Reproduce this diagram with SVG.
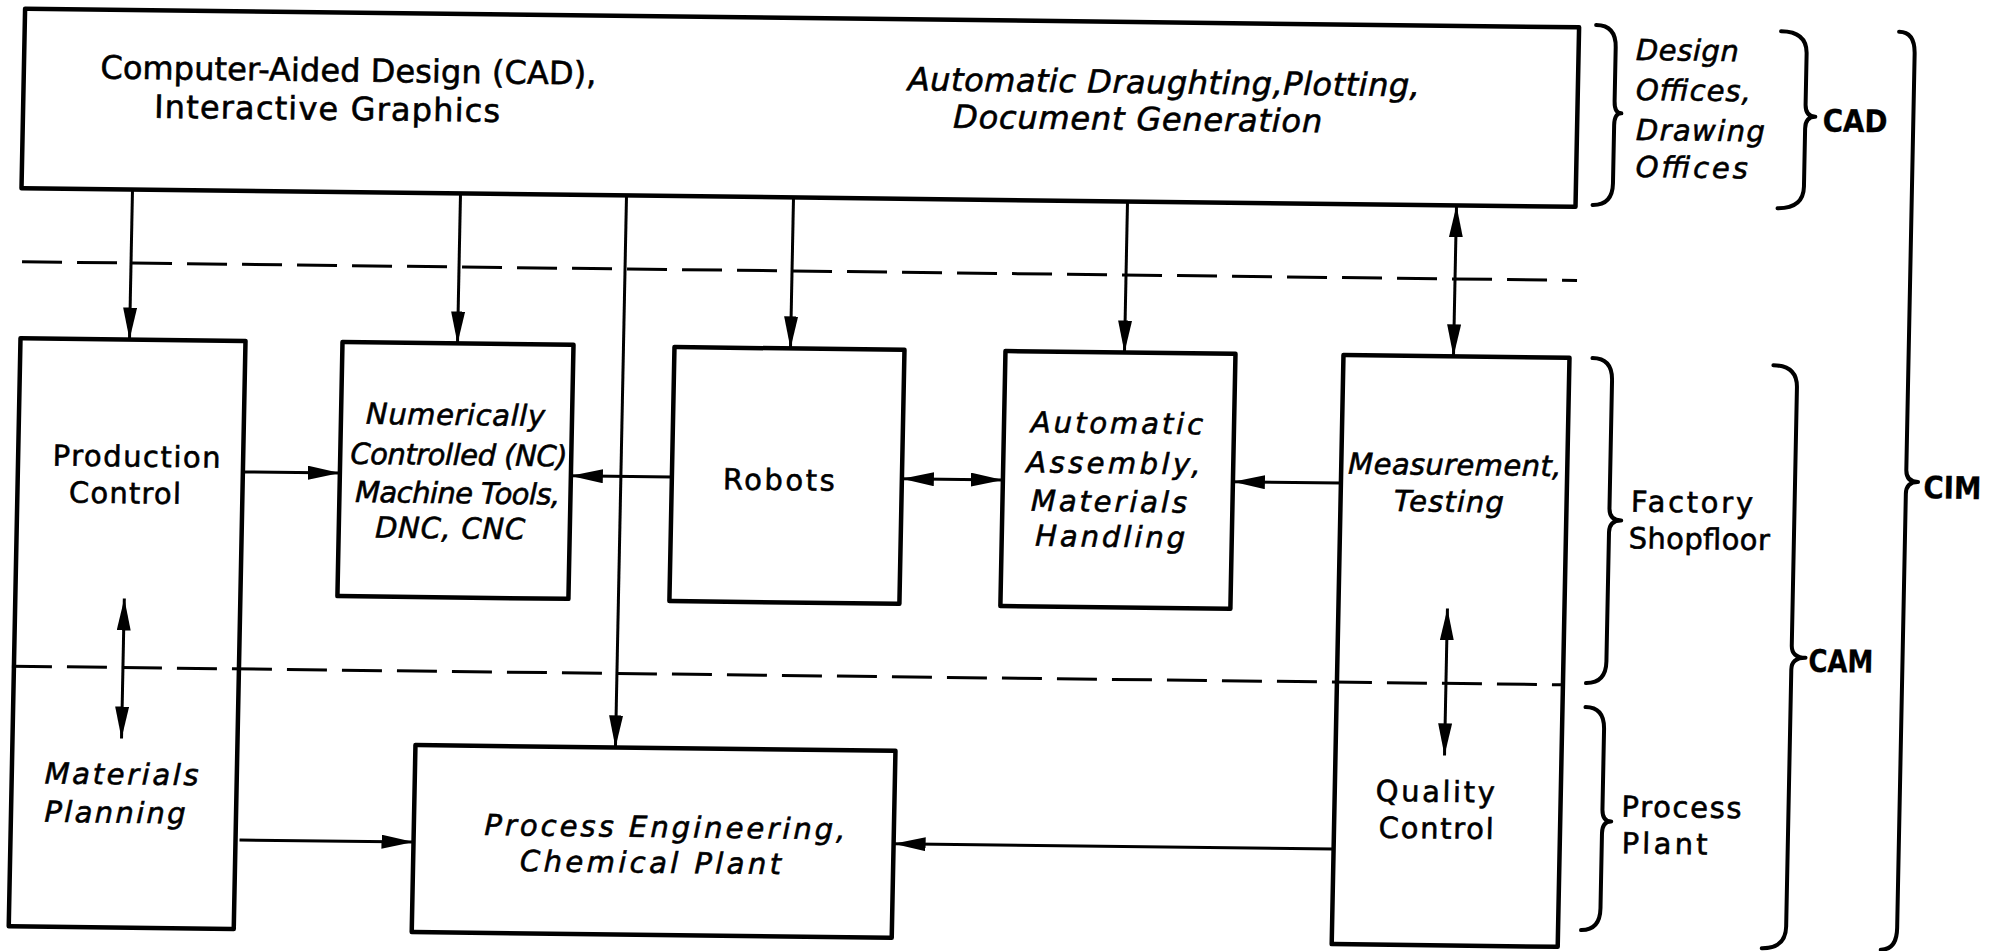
<svg xmlns="http://www.w3.org/2000/svg" width="2001" height="951" viewBox="0 0 2001 951">
<defs>
<marker id="ah" viewBox="0 0 32 14" refX="32" refY="7" markerWidth="32" markerHeight="14" markerUnits="userSpaceOnUse" orient="auto-start-reverse"><path d="M0,0 L32,7 L0,14 Z" fill="#000"/></marker>
</defs>
<style>
.box{fill:none;stroke:#000;stroke-width:4.5;stroke-linejoin:round}
.con{fill:none;stroke:#000;stroke-width:3}
.dash{fill:none;stroke:#000;stroke-width:3;stroke-dasharray:40 15}
.brace{fill:none;stroke:#000;stroke-width:4;stroke-linecap:round;stroke-linejoin:round}
text{font-family:"DejaVu Sans","Liberation Sans",sans-serif;font-size:29px;fill:#000;stroke:#000;stroke-width:0.6}
.it{font-style:italic}
.big{font-size:32px}
.b{font-weight:bold;font-size:31px;stroke-width:0.3}
</style>
<rect width="2001" height="951" fill="#fff"/>
<g transform="matrix(1 0.012 -0.02 1 9.5 -12)">
<g id="zones">
<line class="dash" x1="18" y1="273.5" x2="1573" y2="273.5"/>
<line class="dash" x1="16" y1="678" x2="1565" y2="678"/>
</g>
<g id="cad">
<rect class="box" x="16" y="20.5" width="1554" height="179.5"/>
<text class="big" x="92.5" y="89.5" textLength="496">Computer-Aided Design (CAD),</text>
<text class="big" x="147" y="128" textLength="346">Interactive Graphics</text>
<text class="big it" x="900" y="91.5" textLength="512">Automatic Draughting,Plotting,</text>
<text class="big it" x="946" y="128.5" textLength="369">Document Generation</text>
</g>
<g id="production-control">
<rect class="box" x="18" y="350" width="225" height="588"/>
<text x="52.5" y="477" textLength="168">Production</text>
<text x="69.6" y="513.8" textLength="112">Control</text>
<text class="it" x="50.8" y="794.8" textLength="154">Materials</text>
<text class="it" x="51.5" y="833.2" textLength="141">Planning</text>
</g>
<g id="nc">
<rect class="box" x="340" y="350" width="231" height="254"/>
<text class="it" x="365" y="431.5" textLength="179">Numerically</text>
<text class="it" x="350.2" y="471.5" textLength="217">Controlled (NC)</text>
<text class="it" x="355.6" y="509.8" textLength="205">Machine Tools,</text>
<text class="it" x="376.3" y="544.9" textLength="150">DNC, CNC</text>
</g>
<g id="robots">
<rect class="box" x="672" y="351" width="230" height="254"/>
<text x="723" y="492.7" textLength="112">Robots</text>
</g>
<g id="assembly">
<rect class="box" x="1003" y="351" width="230" height="255"/>
<text class="it" x="1030" y="431.9" textLength="172">Automatic</text>
<text class="it" x="1026.3" y="472" textLength="174">Assembly,</text>
<text class="it" x="1031.5" y="510.4" textLength="156">Materials</text>
<text class="it" x="1036.4" y="545.4" textLength="150">Handling</text>
</g>
<g id="measurement">
<rect class="box" x="1341" y="351" width="226" height="589"/>
<text class="it" x="1348" y="469.5" textLength="213">Measurement,</text>
<text class="it" x="1394.4" y="506.3" textLength="110">Testing</text>
<text x="1382" y="796.5" textLength="119">Quality</text>
<text x="1385.7" y="833.1" textLength="115">Control</text>
</g>
<g id="process-engineering">
<rect class="box" x="421" y="752" width="480" height="187"/>
<text class="it" x="491.6" y="841.2" textLength="361">Process Engineering,</text>
<text class="it" x="527.9" y="876.8" textLength="261">Chemical Plant</text>
</g>
<g id="connectors">
<line class="con" x1="127" y1="200" x2="127" y2="350" marker-end="url(#ah)"/>
<line class="con" x1="455" y1="200" x2="455" y2="350" marker-end="url(#ah)"/>
<line class="con" x1="621" y1="200" x2="621" y2="752" marker-end="url(#ah)"/>
<line class="con" x1="788" y1="200" x2="788" y2="351" marker-end="url(#ah)"/>
<line class="con" x1="1122" y1="200" x2="1122" y2="351" marker-end="url(#ah)"/>
<line class="con" x1="1451" y1="200" x2="1451" y2="351" marker-start="url(#ah)" marker-end="url(#ah)"/>
<line class="con" x1="243" y1="481" x2="340" y2="481" marker-end="url(#ah)"/>
<line class="con" x1="672" y1="481" x2="571" y2="481" marker-end="url(#ah)"/>
<line class="con" x1="902" y1="480" x2="1003" y2="480" marker-start="url(#ah)" marker-end="url(#ah)"/>
<line class="con" x1="1341" y1="479" x2="1233" y2="479" marker-end="url(#ah)"/>
<line class="con" x1="247" y1="849" x2="421" y2="849" marker-end="url(#ah)"/>
<line class="con" x1="1341" y1="845" x2="901" y2="845" marker-end="url(#ah)"/>
<line class="con" x1="127" y1="609" x2="127" y2="749" marker-start="url(#ah)" marker-end="url(#ah)"/>
<line class="con" x1="1450" y1="603" x2="1450" y2="750" marker-start="url(#ah)" marker-end="url(#ah)"/>
</g>
<g id="braces">
<path class="brace" d="M1587,18 Q1607,18 1607,40 L1607,94 Q1607,106 1614,106 Q1607,106 1607,118 L1607,176 Q1607,198 1587,198"/>
<path class="brace" d="M1772,22 Q1798,22 1798,44 L1798,95 Q1798,107 1808,107 Q1798,107 1798,119 L1798,177 Q1798,199 1772,199"/>
<path class="brace" d="M1590,351 Q1610,351 1610,373 L1610,501 Q1610,513 1622,513 Q1610,513 1610,525 L1610,654 Q1610,676 1590,676"/>
<path class="brace" d="M1590,700 Q1609,700 1609,722 L1609,802 Q1609,814 1618,814 Q1609,814 1609,826 L1609,901 Q1609,923 1590,923"/>
<path class="brace" d="M1771,356 Q1795,356 1795,378 L1795,636 Q1795,648 1809,648 Q1795,648 1795,660 L1795,917 Q1795,939 1771,939"/>
<path class="brace" d="M1890,21 Q1906,21 1906,43 L1906,459 Q1906,471 1918,471 Q1906,471 1906,483 L1906,917 Q1906,939 1890,939"/>
</g>
<g id="labels">
<text class="it" x="1627.2" y="52.4" textLength="103">Design</text>
<text class="it" x="1628" y="92.4" textLength="115">Offices,</text>
<text class="it" x="1628.8" y="132.4" textLength="129">Drawing</text>
<text class="it" x="1629.5" y="169.5" textLength="112">Offices</text>
<text class="b" x="1815.4" y="121.8" textLength="65" lengthAdjust="spacingAndGlyphs">CAD</text>
<text x="1631.4" y="504.1" textLength="122">Factory</text>
<text x="1629.9" y="540.8" textLength="141">Shopfloor</text>
<text x="1628" y="809.2" textLength="120">Process</text>
<text x="1628.8" y="845.8" textLength="86">Plant</text>
<text class="b" x="1811.9" y="662" textLength="65" lengthAdjust="spacingAndGlyphs">CAM</text>
<text class="b" x="1923.4" y="487.2" textLength="58" lengthAdjust="spacingAndGlyphs">CIM</text>
</g>
</g>
</svg>
